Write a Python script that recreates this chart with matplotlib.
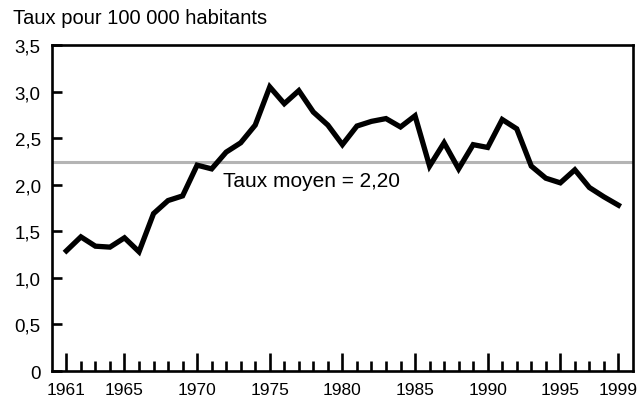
import matplotlib
matplotlib.use("Agg")
import matplotlib.pyplot as plt

plt.rcParams['font.family'] = ['Liberation Sans', 'DejaVu Sans']

# Data
years = list(range(1961, 2000))
rates = [1.29, 1.44, 1.34, 1.33, 1.43, 1.28, 1.69, 1.83, 1.88, 2.21,
         2.17, 2.35, 2.45, 2.64, 3.05, 2.87, 3.01, 2.78, 2.64, 2.43,
         2.63, 2.68, 2.71, 2.62, 2.74, 2.20, 2.45, 2.17, 2.43, 2.40,
         2.70, 2.60, 2.20, 2.07, 2.02, 2.16, 1.97, 1.87, 1.78]
mean_level = 2.24
mean_label = "Taux moyen = 2,20"
major_years = [1961, 1965, 1970, 1975, 1980, 1985, 1990, 1995, 1999]
y_ticks = [0, 0.5, 1.0, 1.5, 2.0, 2.5, 3.0, 3.5]
y_labels = ["0", "0,5", "1,0", "1,5", "2,0", "2,5", "3,0", "3,5"]

fig = plt.figure(figsize=(6.4, 4.02), dpi=100)
ax = fig.add_axes([0.081, 0.0746, 0.908, 0.811])

ax.axhline(mean_level, color='#b4b4b4', linewidth=2.2, zorder=1)
ax.plot(years, rates, color='black', linewidth=3.8, solid_joinstyle='miter', zorder=2)
ax.text(1971.8, 1.99, mean_label, fontsize=15, va='baseline', ha='left')

ax.set_xlim(1960, 2000)
ax.set_ylim(0, 3.5)
ax.set_xticks(major_years)
ax.set_xticklabels([str(y) for y in major_years])
ax.set_xticks([y for y in years if y not in major_years], minor=True)
ax.set_yticks(y_ticks)
ax.set_yticklabels(y_labels)

for s in ax.spines.values():
    s.set_linewidth(1.9)

ax.tick_params(axis='x', which='major', direction='in', length=13, width=1.9, labelsize=12.5, pad=8)
ax.tick_params(axis='x', which='minor', direction='in', length=7, width=1.9)
ax.tick_params(axis='y', which='major', direction='in', length=7, width=1.9, labelsize=13.5, pad=8)

fig.text(0.02, 0.953, "Taux pour 100 000 habitants", fontsize=14.5, va='center', ha='left')

fig.savefig("out.png", dpi=100)
